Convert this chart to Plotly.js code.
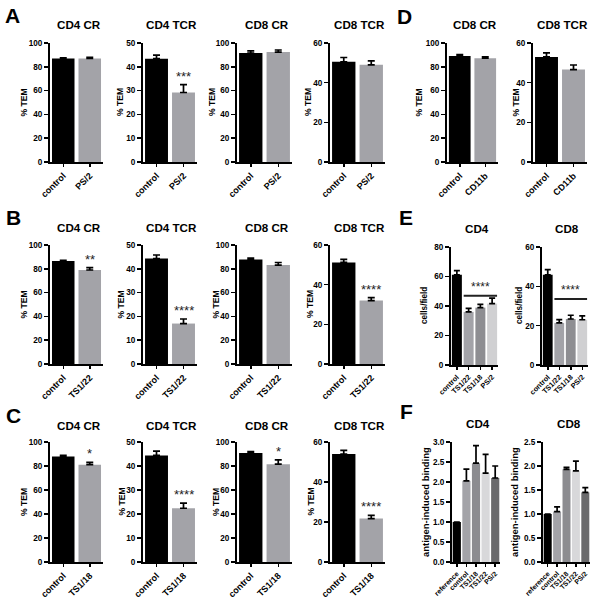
<!DOCTYPE html>
<html><head><meta charset="utf-8">
<script src="https://cdn.plot.ly/plotly-3.0.1.min.js"></script>
<style>html,body{margin:0;padding:0;background:#fff}</style>
</head><body><div id="chart" style="width:598px;height:600px"></div>
<script>
// ---------- categories ----------
const catsPS2 = ['control', 'PS/2'];
const catsTS122 = ['control', 'TS1/22'];
const catsTS118 = ['control', 'TS1/18'];
const catsCD11b = ['control', 'CD11b'];
const catsE = ['control', 'TS1/22', 'TS1/18', 'PS/2'];
const catsF = ['reference', 'control', 'TS1/18', 'TS1/22', 'PS/2'];

// ---------- panel A (PS/2) ----------
const aCD4CR = [87.0, 87.0];      const aCD4CRErr = [0.6, 1.0];
const aCD4TCR = [43.4, 29.2];     const aCD4TCRErr = [1.5, 3.3];
const aCD8CR = [91.6, 92.4];      const aCD8CRErr = [1.8, 1.7];
const aCD8TCR = [50.5, 49.0];     const aCD8TCRErr = [2.2, 2.0];
const aSig = ['', '***', '', ''];

// ---------- panel B (TS1/22) ----------
const bCD4CR = [86.6, 79.0];      const bCD4CRErr = [0.6, 2.0];
const bCD4TCR = [44.3, 17.0];     const bCD4TCRErr = [1.5, 1.9];
const bCD8CR = [87.8, 83.1];      const bCD8CRErr = [1.2, 2.2];
const bCD8TCR = [51.2, 32.0];     const bCD8TCRErr = [1.6, 1.5];
const bSig = ['**', '****', '', '****'];

// ---------- panel C (TS1/18) ----------
const cCD4CR = [88.0, 81.1];      const cCD4CRErr = [0.8, 1.9];
const cCD4TCR = [44.4, 22.4];     const cCD4TCRErr = [1.8, 2.1];
const cCD8CR = [90.8, 81.5];      const cCD8CRErr = [1.3, 3.6];
const cCD8TCR = [54.0, 21.7];     const cCD8TCRErr = [1.8, 1.6];
const cSig = ['*', '****', '*', '****'];

// ---------- panel D (CD11b) ----------
const dCD8CR = [89.0, 87.2];      const dCD8CRErr = [1.3, 1.1];
const dCD8TCR = [53.0, 46.6];     const dCD8TCRErr = [2.0, 2.3];
const dSig = ['', ''];

// ---------- panel E (cells/field) ----------
const eCD4 = [61.2, 36.0, 38.9, 41.6];  const eCD4Err = [2.8, 2.4, 2.2, 3.8];
const eCD8 = [45.9, 21.4, 23.4, 23.0];  const eCD8Err = [2.6, 1.7, 1.9, 2.0];
const eCD4SigLevel = 47.0;
const eCD8SigLevel = 33.6;
const eSig = '****';

// ---------- panel F (antigen-induced binding) ----------
const fCD4 = [1.0, 2.03, 2.47, 2.22, 2.10];  const fCD4Err = [0, 0.29, 0.44, 0.47, 0.30];
const fCD8 = [1.0, 1.05, 1.93, 1.90, 1.45];  const fCD8Err = [0, 0.10, 0.04, 0.20, 0.10];

// ---------- styling / layout ----------
const W = 598, H = 600;
function fontExists(name) {
  const c = document.createElement('canvas').getContext('2d');
  const txt = 'antigen-induced binding 0123456789';
  c.font = 'bold 40px monospace'; const w0 = c.measureText(txt).width;
  c.font = "bold 40px '" + name + "', monospace"; const w1 = c.measureText(txt).width;
  return Math.abs(w0 - w1) > 0.5;
}
const HAS_NARROW = fontExists('Liberation Sans Narrow');
const NARROW = HAS_NARROW ? "'Liberation Sans Narrow', 'Liberation Sans', Arial, sans-serif"
                          : "'Liberation Sans', Arial, sans-serif";
const FS = HAS_NARROW ? 1 : 0.86;   // size factor when the condensed face is missing
const SANS = "'Liberation Sans', Arial, Helvetica, sans-serif";
const GRAY = '#a3a3a8';
const eColors = ['#000000', '#a3a3a8', '#8e8e92', '#d0d0d2'];
const fColors = ['#000000', '#a3a3a8', '#8c8c90', '#d8d8da', '#6a6a6c'];

const colsX = [[50, 103], [143, 197], [237, 292], [330, 385]];
const rowY = {A: [43, 162], B: [245, 364], C: [442, 562], D: [43, 162], E: [247, 365], F: [442, 562]};
const titleY = {A: 25, B: 227.5, C: 425, D: 24, E: 229, F: 423.5};
const yTitleX = {A: [23, 119.5, 211.5, 307.5], B: [24, 121, 216, 310.5], C: [24, 121.5, 216, 310.5], D: [418, 515], E: [424, 519], F: [425, 514]};

const panels = [];
function addRow(row, cats, list, sig) {
  list.forEach((item, k) => {
    panels.push({
      cats: cats, vals: item[1], errs: item[2], title: item[0], ymax: item[3], dtick: item[4],
      colors: ['#000000', GRAY], sig: sig[k] ? [{i: 1, text: sig[k]}] : [],
      x0: item[5] ? item[5][0] : colsX[k][0], x1: item[5] ? item[5][1] : colsX[k][1],
      y0: rowY[row][0], y1: rowY[row][1], ty: titleY[row], ytx: yTitleX[row][k],
      ytitle: '% TEM', ytfs: 10, xfs: 10.5, yfs: 9.5, fmt: '', capw: 3.5
    });
  });
}
addRow('A', catsPS2, [
  ['CD4 CR', aCD4CR, aCD4CRErr, 100, 20], ['CD4 TCR', aCD4TCR, aCD4TCRErr, 50, 10],
  ['CD8 CR', aCD8CR, aCD8CRErr, 100, 20], ['CD8 TCR', aCD8TCR, aCD8TCRErr, 60, 20]], aSig);
addRow('D', catsCD11b, [
  ['CD8 CR', dCD8CR, dCD8CRErr, 100, 20, [447, 498]], ['CD8 TCR', dCD8TCR, dCD8TCRErr, 60, 20, [533, 587]]], dSig);
addRow('B', catsTS122, [
  ['CD4 CR', bCD4CR, bCD4CRErr, 100, 20], ['CD4 TCR', bCD4TCR, bCD4TCRErr, 50, 10],
  ['CD8 CR', bCD8CR, bCD8CRErr, 100, 20], ['CD8 TCR', bCD8TCR, bCD8TCRErr, 60, 20]], bSig);
addRow('C', catsTS118, [
  ['CD4 CR', cCD4CR, cCD4CRErr, 100, 20], ['CD4 TCR', cCD4TCR, cCD4TCRErr, 50, 10],
  ['CD8 CR', cCD8CR, cCD8CRErr, 100, 20], ['CD8 TCR', cCD8TCR, cCD8TCRErr, 60, 20]], cSig);

// E panels
[['CD4', eCD4, eCD4Err, 80, 20, [451, 498], eCD4SigLevel, 0], ['CD8', eCD8, eCD8Err, 60, 20, [542, 588], eCD8SigLevel, 1]].forEach(it => {
  panels.push({cats: catsE, vals: it[1], errs: it[2], title: it[0], ymax: it[3], dtick: it[4], colors: eColors,
    sig: [], sigLine: {level: it[6], from: 1, to: catsE.length - 1, text: eSig},
    x0: it[5][0], x1: it[5][1], y0: rowY.E[0], y1: rowY.E[1], ty: titleY.E, ytx: yTitleX.E[it[7]],
    ytitle: 'cells/field', ytfs: 9.5, xfs: 8.5, yfs: 9.5, fmt: '', capw: 3});
});
// F panels
[['CD4', fCD4, fCD4Err, 3.0, 0.5, [452, 500], 0], ['CD8', fCD8, fCD8Err, 2.5, 0.5, [543, 590], 1]].forEach(it => {
  panels.push({cats: catsF, vals: it[1], errs: it[2], title: it[0], ymax: it[3], dtick: it[4], colors: fColors,
    sig: [], x0: it[5][0], x1: it[5][1], y0: rowY.F[0], y1: rowY.F[1], ty: titleY.F, ytx: yTitleX.F[it[6]],
    ytitle: 'antigen-induced binding', ytfs: 11, xfs: 8, yfs: 9.5, fmt: '.1f', capw: 3});
});

const data = [];
const layout = {
  width: W, height: H, margin: {l: 0, r: 0, t: 0, b: 0}, showlegend: false,
  paper_bgcolor: '#ffffff', plot_bgcolor: 'rgba(0,0,0,0)', bargap: 0.15,
  annotations: [], shapes: [], hovermode: false
};

panels.forEach((p, idx) => {
  const n = idx + 1;
  const xs = n === 1 ? 'x' : 'x' + n, ys = n === 1 ? 'y' : 'y' + n;
  const xk = n === 1 ? 'xaxis' : 'xaxis' + n, yk = n === 1 ? 'yaxis' : 'yaxis' + n;
  data.push({
    type: 'bar', x: p.cats, y: p.vals, xaxis: xs, yaxis: ys,
    marker: {color: p.colors.slice(0, p.cats.length), line: {width: 0}},
    error_y: {type: 'data', symmetric: false, array: p.errs, arrayminus: p.errs.map(() => 0),
      color: '#000', thickness: 1.7, width: p.capw},
    hoverinfo: 'none'
  });
  layout[xk] = {
    domain: [p.x0 / W, p.x1 / W], anchor: ys, type: 'category', range: [-0.5, p.cats.length - 0.5],
    tickmode: 'array', tickvals: p.cats, ticktext: p.cats,
    showline: true, linecolor: '#000', linewidth: 2, ticks: 'outside', ticklen: 3, tickwidth: 1.5, tickcolor: '#000',
    tickangle: -45, tickfont: {family: NARROW, size: p.xfs * FS, color: '#000', weight: 'bold'},
    showgrid: false, zeroline: false, fixedrange: true
  };
  layout[yk] = {
    domain: [1 - p.y1 / H, 1 - p.y0 / H], anchor: xs, range: [0, p.ymax], tick0: 0, dtick: p.dtick, tickformat: p.fmt,
    showline: true, linecolor: '#000', linewidth: 2, ticks: 'outside', ticklen: 4, tickwidth: 1.5, tickcolor: '#000',
    tickfont: {family: NARROW, size: p.yfs * FS, color: '#000', weight: 'bold'},
    showgrid: false, zeroline: false, fixedrange: true
  };
  // panel title
  layout.annotations.push({xref: 'paper', yref: 'paper', x: (p.x0 + p.x1) / 2 / W + 2 / W, y: 1 - p.ty / H,
    xanchor: 'center', yanchor: 'middle', showarrow: false, text: p.title,
    font: {family: NARROW, size: 13.5 * FS, color: '#000', weight: 'bold'}});
  // y title
  layout.annotations.push({xref: 'paper', yref: 'paper', x: p.ytx / W, y: 1 - (p.y0 + p.y1) / 2 / H,
    xanchor: 'center', yanchor: 'middle', showarrow: false, text: p.ytitle, textangle: -90,
    font: {family: NARROW, size: p.ytfs * FS, color: '#000', weight: 'bold'}});
  // significance stars above a bar
  p.sig.forEach(s => {
    layout.annotations.push({xref: xs, yref: ys, x: s.i, y: p.vals[s.i] + p.errs[s.i], xanchor: 'center', yanchor: 'bottom',
      showarrow: false, text: s.text, yshift: -1, font: {family: SANS, size: 13, color: '#222'}});
  });
  // significance line over a group
  if (p.sigLine) {
    const L = p.sigLine;
    layout.shapes.push({type: 'line', xref: xs, yref: ys, x0: L.from - 0.42, x1: L.to + 0.42, y0: L.level, y1: L.level,
      line: {color: '#222', width: 2}});
    layout.annotations.push({xref: xs, yref: ys, x: (L.from + L.to) / 2, y: L.level, xanchor: 'center', yanchor: 'bottom',
      showarrow: false, text: L.text, yshift: 0, font: {family: SANS, size: 12, color: '#222'}});
  }
});

// panel letters
const letters = [['A', 12.5, 16], ['D', 404, 17], ['B', 14, 217], ['E', 406, 217], ['C', 14, 415], ['F', 406, 411]];
letters.forEach(l => {
  layout.annotations.push({xref: 'paper', yref: 'paper', x: l[1] / W, y: 1 - l[2] / H, xanchor: 'center', yanchor: 'middle',
    showarrow: false, text: l[0], font: {family: SANS, size: 21, color: '#000', weight: 'bold'}});
});

Plotly.newPlot('chart', data, layout, {staticPlot: true, displayModeBar: false});
</script>
</body></html>
